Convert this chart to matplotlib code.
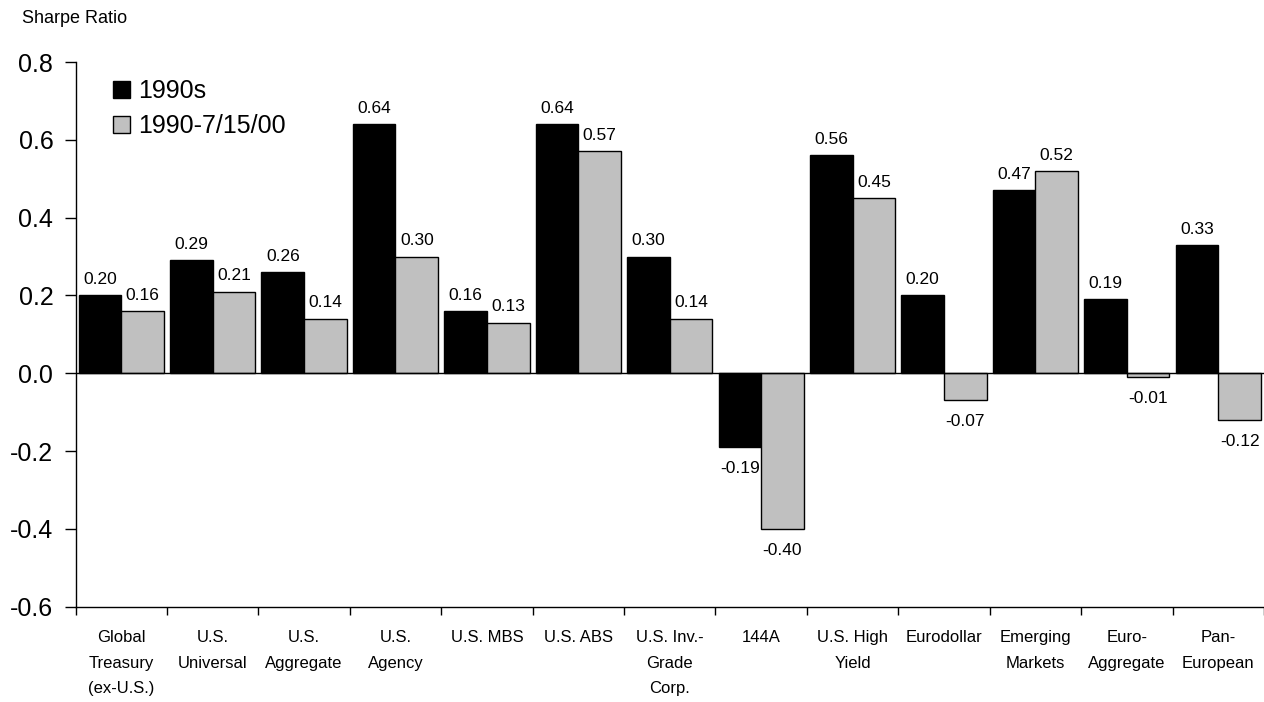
import matplotlib
matplotlib.use("Agg")
import matplotlib.pyplot as plt
import numpy as np

plt.rcParams['font.family'] = ['Liberation Sans', 'DejaVu Sans']

categories = ["Global\nTreasury\n(ex-U.S.)", "U.S.\nUniversal", "U.S.\nAggregate", "U.S.\nAgency",
              "U.S. MBS", "U.S. ABS", "U.S. Inv.-\nGrade\nCorp.", "144A", "U.S. High\nYield",
              "Eurodollar", "Emerging\nMarkets", "Euro-\nAggregate", "Pan-\nEuropean"]
s1990s = [0.20, 0.29, 0.26, 0.64, 0.16, 0.64, 0.30, -0.19, 0.56, 0.20, 0.47, 0.19, 0.33]
s1990_2000 = [0.16, 0.21, 0.14, 0.30, 0.13, 0.57, 0.14, -0.40, 0.45, -0.07, 0.52, -0.01, -0.12]
series_names = ["1990s", "1990-7/15/00"]
yticks = [-0.6, -0.4, -0.2, 0.0, 0.2, 0.4, 0.6, 0.8]

W, H = 1264, 702
fig = plt.figure(figsize=(W/100, H/100), dpi=100)
left, right, top, bottom = 75.5, 1264, 62, 606.7
ax = fig.add_axes([left/W, 1-bottom/H, (right-left)/W, (bottom-top)/H])

x = np.arange(len(categories))
w = 0.466
b1 = ax.bar(x - w/2, s1990s, w, color='black', edgecolor='black', linewidth=1, label=series_names[0])
b2 = ax.bar(x + w/2, s1990_2000, w, color='#C0C0C0', edgecolor='black', linewidth=1, label=series_names[1])

for bars, vals in ((b1, s1990s), (b2, s1990_2000)):
    for r, v in zip(bars, vals):
        cx = r.get_x() + r.get_width()/2
        if v >= 0:
            ax.annotate(f"{v:.2f}", (cx, v), xytext=(0, 6), textcoords='offset points',
                        ha='center', va='bottom', fontsize=12.5)
        else:
            ax.annotate(f"{v:.2f}", (cx, v), xytext=(0, -10), textcoords='offset points',
                        ha='center', va='top', fontsize=12.5)

ax.axhline(0, color='black', linewidth=1)
ax.set_xlim(-0.5, len(categories) - 0.5)
ax.set_ylim(-0.6, 0.8)
ax.set_yticks(yticks)
ax.set_yticklabels([f"{t:.1f}" for t in yticks], fontsize=18)
ax.tick_params(axis='y', length=8, width=1, pad=8)

ax.set_xticks(np.arange(len(categories) + 1) - 0.5)
ax.set_xticklabels([])
ax.tick_params(axis='x', which='major', length=6, width=1, direction='out')
ax.set_xticks(x, minor=True)
ax.set_xticklabels(categories, minor=True, fontsize=12, linespacing=1.85, va='top')
ax.tick_params(axis='x', which='minor', length=0, pad=17)

for s in ('top', 'right'):
    ax.spines[s].set_visible(False)
for s in ('left', 'bottom'):
    ax.spines[s].set_linewidth(1)

fig.legend(handles=[b1, b2], labels=series_names, loc='upper left',
           bbox_to_anchor=(113/W, 1-79/H), frameon=False, fontsize=18,
           handlelength=0.68, handleheight=0.68, handletextpad=0.32, labelspacing=0.45,
           borderaxespad=0, borderpad=0)

fig.text(22.5/W, 1-18.5/H, "Sharpe Ratio", fontsize=13, ha='left', va='center')

fig.savefig("out.png", dpi=100)
